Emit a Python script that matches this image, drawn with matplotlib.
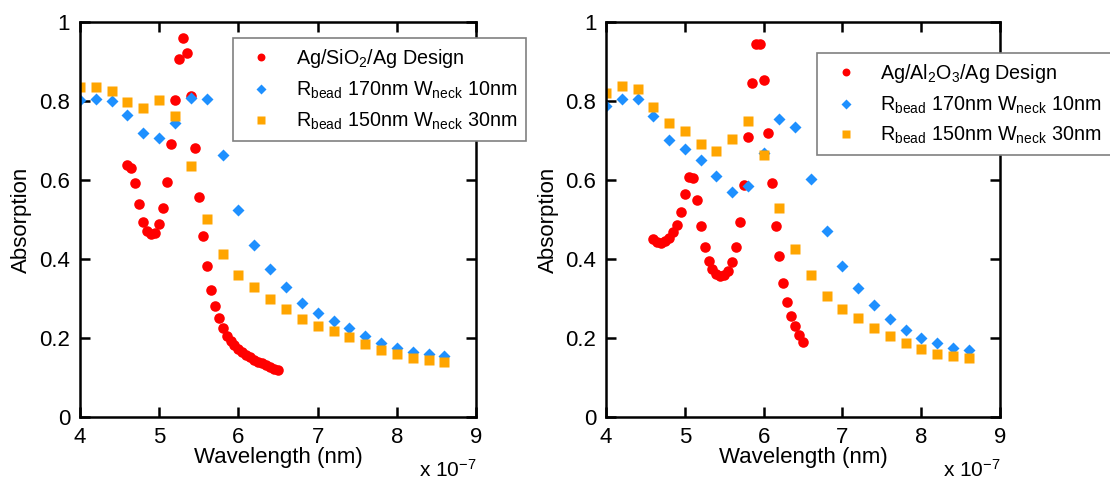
import matplotlib
matplotlib.use('Agg')
import matplotlib.pyplot as plt
from matplotlib.ticker import FixedLocator, FormatStrFormatter

plt.rcParams['font.family'] = ['Liberation Sans', 'DejaVu Sans']
plt.rcParams['mathtext.fontset'] = 'custom'
plt.rcParams['mathtext.rm'] = 'Liberation Sans'
plt.rcParams['mathtext.it'] = 'Liberation Sans'

# wavelength in units of 1e-7 m
bead_x = [4.0, 4.2, 4.4, 4.6, 4.8, 5.0, 5.2, 5.4, 5.6, 5.8, 6.0, 6.2,
          6.4, 6.6, 6.8, 7.0, 7.2, 7.4, 7.6, 7.8, 8.0, 8.2, 8.4, 8.6]
design_x = [4.6, 4.65, 4.7, 4.75, 4.8, 4.85, 4.9, 4.95, 5.0, 5.05, 5.1, 5.15,
            5.2, 5.25, 5.3, 5.35, 5.4, 5.45, 5.5, 5.55, 5.6, 5.65, 5.7, 5.75,
            5.8, 5.85, 5.9, 5.95, 6.0, 6.05, 6.1, 6.15, 6.2, 6.25, 6.3, 6.35,
            6.4, 6.45, 6.5]

# left panel: Ag/SiO2/Ag
sio2_design = [0.638, 0.631, 0.593, 0.539, 0.494, 0.471, 0.463, 0.467, 0.489, 0.530,
               0.596, 0.692, 0.803, 0.908, 0.960, 0.923, 0.813, 0.682, 0.558, 0.458,
               0.382, 0.322, 0.281, 0.251, 0.227, 0.205, 0.192, 0.182, 0.173, 0.165,
               0.158, 0.152, 0.146, 0.141, 0.136, 0.132, 0.127, 0.123, 0.119]
sio2_r170 = [0.803, 0.806, 0.800, 0.765, 0.720, 0.706, 0.744, 0.809, 0.806, 0.663,
             0.524, 0.437, 0.375, 0.330, 0.289, 0.264, 0.243, 0.226, 0.205, 0.188,
             0.175, 0.165, 0.159, 0.155]
sio2_r150 = [0.836, 0.836, 0.825, 0.798, 0.783, 0.804, 0.763, 0.636, 0.503, 0.413,
             0.359, 0.330, 0.299, 0.274, 0.248, 0.230, 0.218, 0.203, 0.185, 0.170,
             0.160, 0.149, 0.146, 0.141]

# right panel: Ag/Al2O3/Ag
al2o3_design = [0.450, 0.444, 0.441, 0.446, 0.455, 0.468, 0.486, 0.519, 0.564, 0.608,
                0.606, 0.551, 0.485, 0.431, 0.396, 0.374, 0.362, 0.357, 0.359, 0.370,
                0.393, 0.430, 0.494, 0.587, 0.710, 0.846, 0.944, 0.944, 0.855, 0.720,
                0.592, 0.484, 0.408, 0.341, 0.292, 0.257, 0.230, 0.209, 0.191]
al2o3_r170 = [0.787, 0.805, 0.805, 0.762, 0.701, 0.678, 0.651, 0.611, 0.570, 0.585,
              0.670, 0.754, 0.735, 0.603, 0.471, 0.383, 0.327, 0.285, 0.248, 0.222,
              0.201, 0.187, 0.174, 0.170]
al2o3_r150 = [0.822, 0.839, 0.830, 0.786, 0.746, 0.725, 0.691, 0.673, 0.704, 0.749,
              0.663, 0.530, 0.427, 0.359, 0.307, 0.274, 0.251, 0.227, 0.206, 0.188,
              0.172, 0.161, 0.154, 0.149]

lbl_170 = r'R$_{\mathregular{bead}}$ 170nm W$_{\mathregular{neck}}$ 10nm'
lbl_150 = r'R$_{\mathregular{bead}}$ 150nm W$_{\mathregular{neck}}$ 30nm'

fig = plt.figure(figsize=(11.1, 4.84), dpi=100)
ax1 = fig.add_axes([0.072, 0.138, 0.357, 0.816])
ax2 = fig.add_axes([0.546, 0.138, 0.355, 0.816])

panels = [
    (ax1, sio2_design, sio2_r170, sio2_r150, r'Ag/SiO$_2$/Ag Design', (0.386, 0.959)),
    (ax2, al2o3_design, al2o3_r170, al2o3_r150, r'Ag/Al$_2$O$_3$/Ag Design', (0.536, 0.922)),
]

for ax, red, blue, orange, lbl, anchor in panels:
    ax.plot(design_x, red, 'o', color='#ff0000', ms=7.6, mec='none', label=lbl)
    ax.plot(bead_x, blue, 'D', color='#1e90ff', ms=6.4, mec='none', label=lbl_170)
    ax.plot(bead_x, orange, 's', color='#ffa500', ms=7.8, mec='none', label=lbl_150)
    ax.set_xlim(4, 9)
    ax.set_ylim(0, 1)
    ax.xaxis.set_major_locator(FixedLocator([4, 5, 6, 7, 8, 9]))
    ax.yaxis.set_major_locator(FixedLocator([0, 0.2, 0.4, 0.6, 0.8, 1]))
    ax.yaxis.set_major_formatter(FormatStrFormatter('%g'))
    ax.tick_params(direction='in', length=7, width=1.8, labelsize=16,
                   top=True, right=True, pad=7)
    for s in ax.spines.values():
        s.set_linewidth(1.8)
    ax.set_xlabel('Wavelength (nm)', fontsize=16, labelpad=-1)
    ax.set_ylabel('Absorption', fontsize=16, labelpad=5)
    ax.text(1.0, -0.105, r'x 10$^{-7}$', transform=ax.transAxes, ha='right',
            va='top', fontsize=15)
    leg = ax.legend(loc='upper left', bbox_to_anchor=anchor, borderaxespad=0,
                    fontsize=14.2, fancybox=False, framealpha=1, markerscale=0.75,
                    labelspacing=0.48, handletextpad=0.75, borderpad=0.45)
    leg.get_frame().set_edgecolor('#808080')
    leg.get_frame().set_linewidth(1.2)

fig.savefig('out.png', dpi=100)
